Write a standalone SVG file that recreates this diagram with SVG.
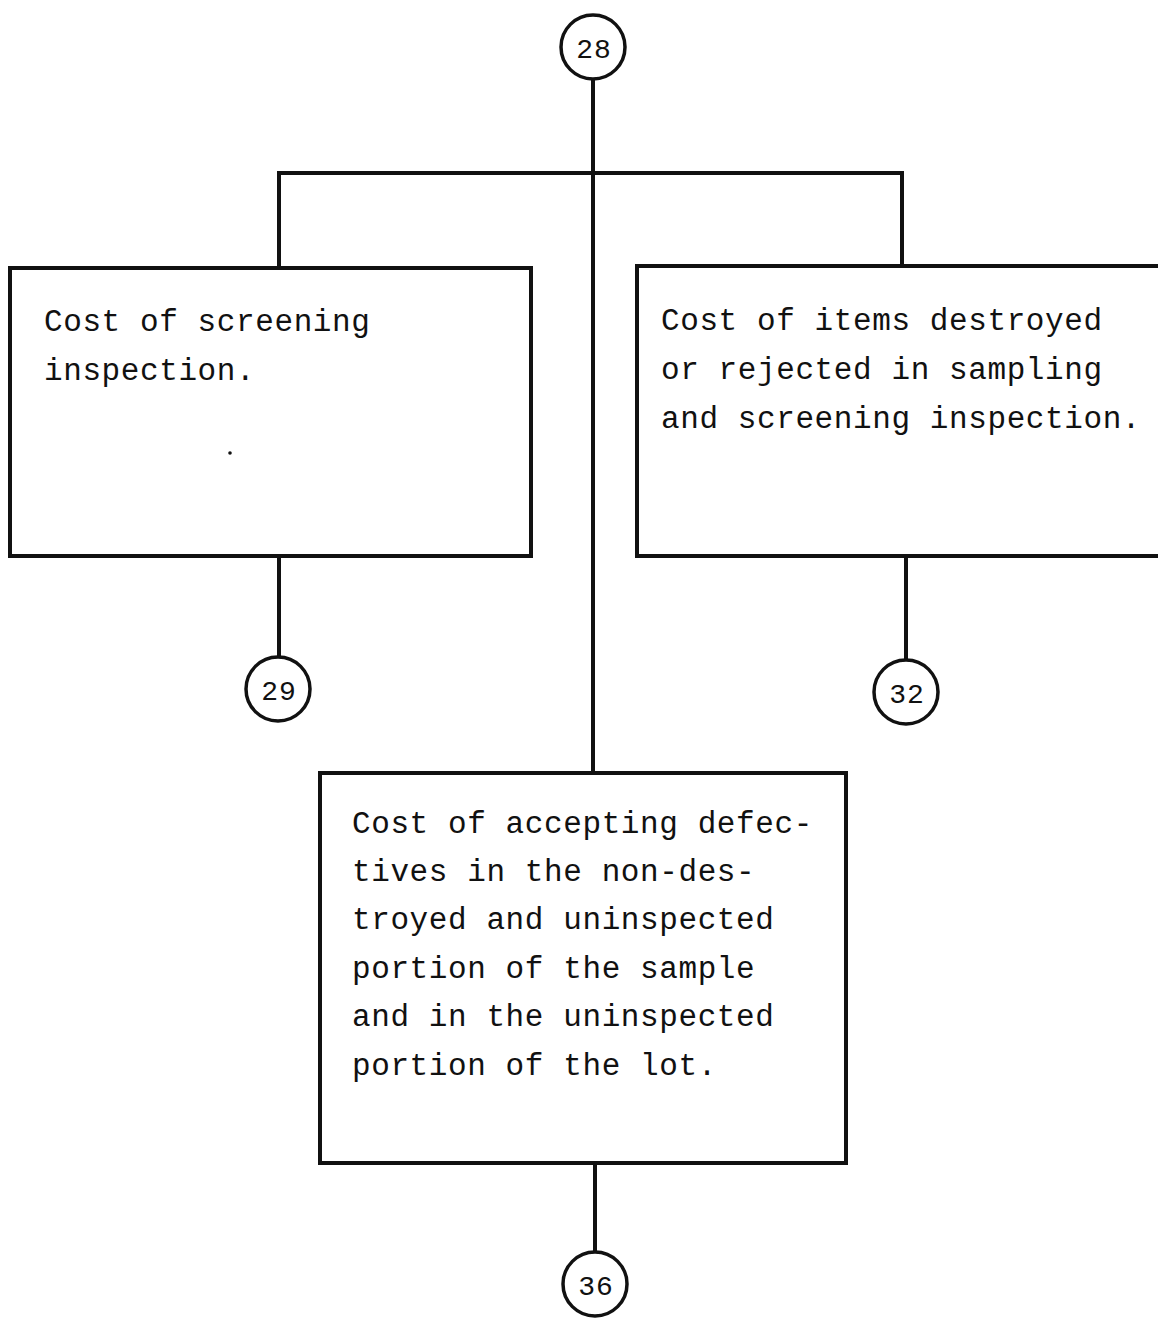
<svg xmlns="http://www.w3.org/2000/svg" width="1158" height="1318" viewBox="0 0 1158 1318">
  <style>
    .box { fill: #ffffff; stroke: #111111; stroke-width: 4; }
    .ref { fill: #ffffff; stroke: #111111; stroke-width: 3.5; }
    .wire { fill: none; stroke: #111111; stroke-width: 4; stroke-linecap: square; }
    .txt { font-family: "Liberation Mono", "DejaVu Sans Mono", monospace; font-size: 31px; fill: #111111; letter-spacing: 0.6px; }
    .num { font-family: "Liberation Mono", "DejaVu Sans Mono", monospace; font-size: 28px; fill: #111111; text-anchor: middle; letter-spacing: 1px; }
  </style>
  <rect width="1158" height="1318" fill="#ffffff"/>

  <!-- connectors -->
  <g id="connectors">
    <path class="wire" d="M593 80 V773"/>
    <path class="wire" d="M279 173 H902"/>
    <path class="wire" d="M279 173 V268"/>
    <path class="wire" d="M902 173 V266"/>
    <path class="wire" d="M279 556 V656"/>
    <path class="wire" d="M906 556 V659"/>
    <path class="wire" d="M595 1163 V1252"/>
  </g>

  <!-- off-page references -->
  <g id="ref-28">
    <circle class="ref" cx="593" cy="47" r="32"/>
    <text class="num" x="594" y="58">28</text>
  </g>
  <g id="ref-29">
    <circle class="ref" cx="278" cy="689" r="32"/>
    <text class="num" x="279" y="700">29</text>
  </g>
  <g id="ref-32">
    <circle class="ref" cx="906" cy="692" r="32"/>
    <text class="num" x="907" y="703">32</text>
  </g>
  <g id="ref-36">
    <circle class="ref" cx="595" cy="1284" r="32"/>
    <text class="num" x="596" y="1295">36</text>
  </g>

  <!-- cost blocks -->
  <g id="screening-cost">
    <rect class="box" x="10" y="268" width="521" height="288"/>
    <text class="txt" x="44" y="331">Cost of screening</text>
    <text class="txt" x="44" y="380">inspection.</text>
    <circle cx="230" cy="453" r="1.8" fill="#111111"/>
  </g>
  <g id="destroyed-cost">
    <rect class="box" x="637" y="266" width="540" height="290"/>
    <text class="txt" x="661" y="330">Cost of items destroyed</text>
    <text class="txt" x="661" y="379">or rejected in sampling</text>
    <text class="txt" x="661" y="428">and screening inspection.</text>
  </g>
  <g id="acceptance-cost">
    <rect class="box" x="320" y="773" width="526" height="390"/>
    <text class="txt" x="352" y="833">Cost of accepting defec-</text>
    <text class="txt" x="352" y="881">tives in the non-des-</text>
    <text class="txt" x="352" y="929">troyed and uninspected</text>
    <text class="txt" x="352" y="978">portion of the sample</text>
    <text class="txt" x="352" y="1026">and in the uninspected</text>
    <text class="txt" x="352" y="1075">portion of the lot.</text>
  </g>
</svg>
